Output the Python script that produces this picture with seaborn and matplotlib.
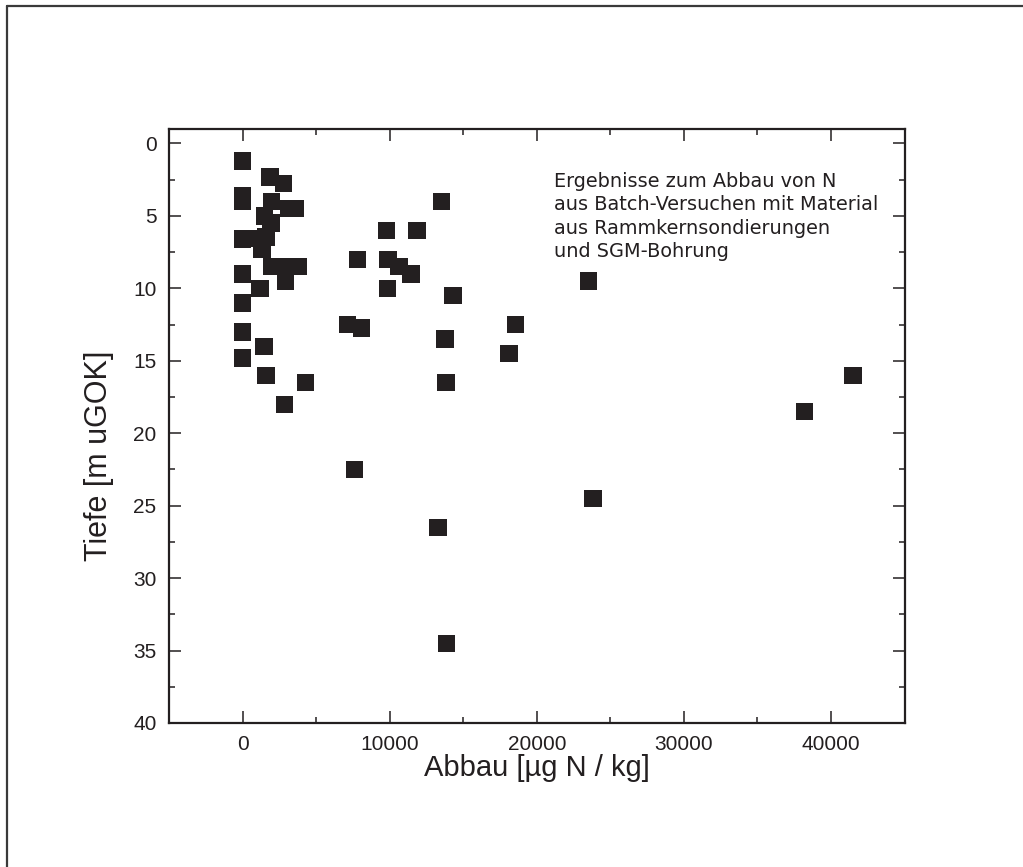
import matplotlib
matplotlib.use("Agg")
import matplotlib.pyplot as plt
from matplotlib.lines import Line2D
from matplotlib.ticker import MultipleLocator
import seaborn as sns
import pandas as pd

# Degradation of N from batch tests (µg N / kg) against sample depth (m below ground)
abbau = [0, 1870, 2800, 0, 0, 1970, 3120, 3570, 1510, 1940,
         0, 1110, 1600, 1330, 1990, 2900, 3800, 2920, 0, 1200,
         0, 0, 1450, 0, 1600, 4280, 2850, 7150, 8100, 7600,
         9780, 11850, 7820, 9890, 10630, 11460, 9840, 13530, 14320, 23530,
         18550, 13760, 18100, 13820, 41500, 38200, 23830, 13300, 13850]
tiefe = [1.2, 2.3, 2.75, 3.6, 4.0, 4.0, 4.5, 4.5, 5.0, 5.5,
         6.6, 6.55, 6.45, 7.3, 8.5, 8.5, 8.5, 9.5, 9.0, 10.0,
         11.0, 13.0, 14.0, 14.8, 16.0, 16.5, 18.0, 12.5, 12.75, 22.5,
         6.0, 6.0, 8.0, 8.0, 8.5, 9.0, 10.0, 4.0, 10.5, 9.5,
         12.5, 13.5, 14.5, 16.5, 16.0, 18.5, 24.5, 26.5, 34.5]

x_ticks = [0, 10000, 20000, 30000, 40000]
y_ticks = [0, 5, 10, 15, 20, 25, 30, 35, 40]
note = ("Ergebnisse zum Abbau von N\n"
        "aus Batch-Versuchen mit Material\n"
        "aus Rammkernsondierungen\n"
        "und SGM-Bohrung")

df = pd.DataFrame({"Abbau": abbau, "Tiefe": tiefe})

ink = "#231f20"
sns.set_style("ticks")
plt.rcParams["font.family"] = ["Liberation Sans", "DejaVu Sans"]

fig = plt.figure(figsize=(10.23, 8.67), dpi=100)
ax = fig.add_axes([0.1652, 0.1661, 0.7190, 0.6851])

sns.scatterplot(data=df, x="Abbau", y="Tiefe", marker="s", s=158,
                color=ink, edgecolor="none", linewidth=0, ax=ax, zorder=3)

ax.set_xlim(-5000, 45000)
ax.set_ylim(40, -1)
ax.set_xticks(x_ticks)
ax.set_yticks(y_ticks)
ax.xaxis.set_minor_locator(MultipleLocator(5000))
ax.yaxis.set_minor_locator(MultipleLocator(2.5))

for side in ["left", "right", "top", "bottom"]:
    ax.spines[side].set_visible(True)
    ax.spines[side].set_linewidth(1.6)
    ax.spines[side].set_color(ink)

ax.tick_params(which="both", direction="in", top=True, right=True,
               color=ink, width=1.1, labelsize=15, labelcolor=ink)
ax.tick_params(which="major", length=8.6, pad=9)
ax.tick_params(which="minor", length=4.3)

ax.set_xlabel("Abbau [µg N / kg]", fontsize=21, color=ink, labelpad=0)
ax.set_ylabel("Tiefe [m uGOK]", fontsize=22, color=ink)
ax.yaxis.set_label_coords(-0.075, 0.45)

ax.text(21150, 1.95, note, ha="left", va="top", fontsize=13.9,
        family=["DejaVu Sans"], color=ink, linespacing=1.3)

# Page frame along the top and left edges
fig.add_artist(Line2D([0.0068, 1.0], [0.9931, 0.9931], transform=fig.transFigure,
                      color="#3a3a3a", linewidth=1.6))
fig.add_artist(Line2D([0.0068, 0.0068], [0.0, 0.9931], transform=fig.transFigure,
                      color="#3a3a3a", linewidth=1.6))

fig.savefig("out.png", dpi=100)
